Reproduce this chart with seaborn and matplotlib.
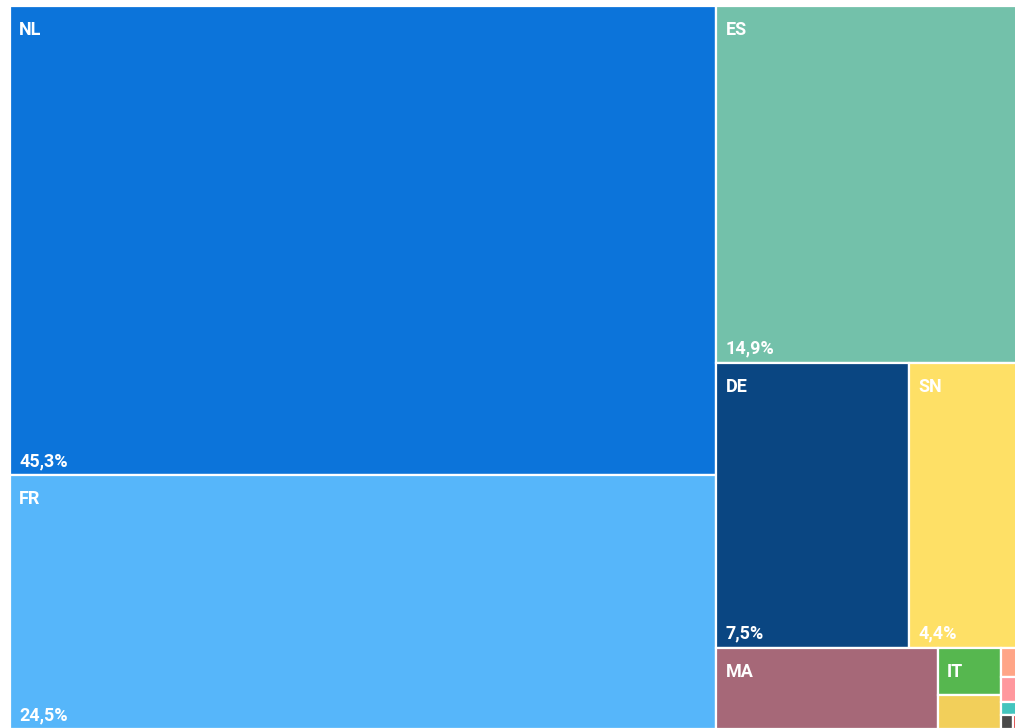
import matplotlib
matplotlib.use("Agg")
import matplotlib.pyplot as plt
from matplotlib.patches import Rectangle
import seaborn as sns

# ---- data ----
categories = ["NL", "FR", "ES", "DE", "SN", "MA", "IT", "PT", "BE", "GB", "CI", "US", "CH"]
shares = [45.3, 24.5, 14.9, 7.5, 4.4, 2.46, 0.415, 0.295, 0.083, 0.069, 0.037, 0.022, 0.018]
colors = ["#0C74DA", "#56B6FA", "#73C1AA", "#0A4682", "#FEE066", "#A66878",
          "#56B74F", "#F2CF5A", "#FFA587", "#FF989E", "#43C5BE", "#4A4A4A", "#E04848"]
value_labels_shown = ["NL", "FR", "ES", "DE", "SN"]

val = dict(zip(categories, shares))
col = dict(zip(categories, colors))

# nesting of the treemap tiles ('h' = side by side, 'v' = stacked)
layout = ("h", [
    ("v", ["NL", "FR"]),
    ("v", ["ES",
           ("h", ["DE", "SN"]),
           ("h", ["MA",
                  ("v", ["IT", "PT"]),
                  ("v", ["BE", "GB", "CI", ("h", ["US", "CH"])])])]),
])


def total(node):
    if isinstance(node, str):
        return val[node]
    return sum(total(c) for c in node[1])


def place(node, x, y, w, h, out):
    if isinstance(node, str):
        out.append((node, x, y, w, h))
        return
    kind, children = node
    s = total(node)
    pos = 0.0
    for c in children:
        f = total(c) / s
        if kind == "h":
            place(c, x + pos * w, y, w * f, h, out)
        else:
            place(c, x, y + pos * h, w, h * f, out)
        pos += f


sns.set_theme(style="white")
plt.rcParams["font.family"] = ["Liberation Sans Narrow", "Roboto", "DejaVu Sans"]

fig = plt.figure(figsize=(10.15, 7.28), dpi=100)
ax = fig.add_axes([0, 0, 1, 1])
ax.set_xlim(0, 1015)
ax.set_ylim(728, 0)
ax.axis("off")

tiles = []
place(layout, 10, 6, 1012, 723, tiles)

for name, x, y, w, h in tiles:
    ax.add_patch(Rectangle((x, y), w, h, facecolor=col[name], edgecolor="white", linewidth=1.6))
    if w > 40 and h > 40:
        ax.text(x + 9, y + 24, name, color="white", fontsize=13, fontweight="bold",
                va="center", ha="left", clip_on=True)
    if name in value_labels_shown:
        ax.text(x + 9, y + h - 14, f"{val[name]:.1f}%".replace(".", ","), color="white",
                fontsize=13, fontweight="bold", va="center", ha="left", clip_on=True)

fig.savefig("out.png", dpi=100, facecolor="white")
